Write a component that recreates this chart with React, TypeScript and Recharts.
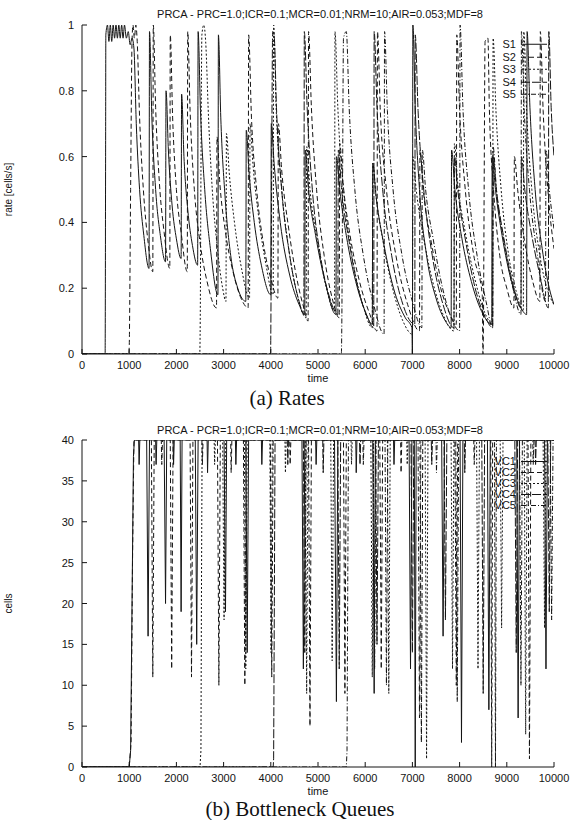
import React from 'react';
import { LineChart, Line, XAxis, YAxis, Legend } from 'recharts';

type Pt = [number, number];

const timeTicks = [0, 1000, 2000, 3000, 4000, 5000, 6000, 7000, 8000, 9000, 10000];
const rateTicks = [0, 0.2, 0.4, 0.6, 0.8, 1];
const queueTicks = [0, 5, 10, 15, 20, 25, 30, 35, 40];

const rateNames = ['S1', 'S2', 'S3', 'S4', 'S5'];
const queueNames = ['VC1', 'VC2', 'VC3', 'VC4', 'VC5'];

// rates [cells/s] per source, (time, rate)
const s1: Pt[] = [
  [0, 0], [490, 0], [500, 0.6], [505, 0.97], [540, 1.0], [570, 0.95], [600, 1.0], [630, 0.95], [660, 1.0],
  [690, 0.96], [720, 1.0], [750, 0.96], [780, 1.0], [810, 0.96], [840, 1.0], [870, 0.96], [900, 1.0],
  [940, 0.96], [980, 0.98], [1020, 0.94], [1060, 0.96], [1100, 0.93],
  [1150, 0.7], [1220, 0.5], [1310, 0.36], [1420, 0.26],
  [1430, 0.98], [1480, 0.72], [1560, 0.5], [1660, 0.36], [1770, 0.28],
  [1780, 0.8], [1830, 0.62], [1910, 0.45], [2000, 0.35], [2100, 0.29],
  [2110, 0.79], [2160, 0.6], [2240, 0.44], [2340, 0.33], [2450, 0.27],
  [2460, 0.98], [2510, 0.74], [2600, 0.5], [2720, 0.32], [2880, 0.18],
  [2890, 0.97], [2940, 0.72], [3030, 0.48], [3150, 0.3], [3300, 0.2], [3470, 0.16],
  [3480, 0.68], [3540, 0.55], [3650, 0.4], [3800, 0.27], [4000, 0.18],
  [4010, 0.7], [4070, 0.58], [4200, 0.4], [4400, 0.24], [4600, 0.15], [4720, 0.12],
  [4730, 0.62], [4800, 0.5], [4950, 0.36], [5150, 0.22], [5380, 0.12],
  [5390, 0.6], [5460, 0.5], [5600, 0.36], [5800, 0.22], [6000, 0.13], [6150, 0.09],
  [6160, 0.58], [6230, 0.48], [6400, 0.33], [6600, 0.2], [6850, 0.11], [6990, 0.08],
  [7000, 0], [7010, 1.0], [7060, 0.75], [7150, 0.5], [7300, 0.3], [7500, 0.17], [7700, 0.1], [7820, 0.08],
  [7830, 0.62], [7900, 0.5], [8050, 0.35], [8250, 0.22], [8500, 0.12], [8680, 0.09],
  [8690, 0.6], [8760, 0.5], [8900, 0.36], [9100, 0.22], [9300, 0.14], [9420, 0.12],
  [9430, 0.98], [9490, 0.75], [9600, 0.5], [9750, 0.32], [9900, 0.2], [10000, 0.15],
];

const s2: Pt[] = [
  [0, 0], [990, 0], [1000, 0.02], [1030, 0.5], [1060, 0.95], [1080, 1.0], [1110, 0.96], [1140, 1.0], [1170, 0.95],
  [1220, 0.72], [1300, 0.5], [1400, 0.34], [1500, 0.25],
  [1510, 1.0], [1560, 0.75], [1640, 0.52], [1740, 0.37], [1860, 0.26],
  [1870, 0.97], [1920, 0.72], [2000, 0.5], [2100, 0.37], [2230, 0.25],
  [2240, 0.98], [2290, 0.74], [2380, 0.5], [2500, 0.34], [2650, 0.22], [2850, 0.14],
  [2860, 0.66], [2920, 0.52], [3030, 0.38], [3200, 0.25], [3400, 0.16], [3520, 0.14],
  [3530, 0.97], [3590, 0.72], [3700, 0.5], [3850, 0.33], [4000, 0.23], [4150, 0.17],
  [4160, 0.7], [4230, 0.56], [4380, 0.38], [4550, 0.23], [4700, 0.14], [4790, 0.1],
  [4800, 0.98], [4860, 0.75], [4970, 0.5], [5130, 0.3], [5300, 0.17], [5450, 0.11],
  [5460, 0.64], [5530, 0.52], [5680, 0.36], [5880, 0.22], [6100, 0.12], [6250, 0.07],
  [6260, 0.98], [6320, 0.74], [6450, 0.5], [6650, 0.3], [6900, 0.15], [7150, 0.07],
  [7160, 0.62], [7230, 0.5], [7400, 0.34], [7600, 0.2], [7800, 0.12], [7930, 0.09],
  [7940, 0.97], [8000, 0.74], [8120, 0.5], [8300, 0.3], [8480, 0.18],
  [8495, 0], [8505, 0.08], [8520, 0.5], [8540, 0.95], [8600, 0.96], [8630, 0.75], [8720, 0.5],
  [8850, 0.3], [9000, 0.2], [9150, 0.14],
  [9160, 0.6], [9230, 0.5], [9380, 0.34], [9550, 0.22], [9700, 0.16],
  [9710, 0.98], [9770, 0.74], [9870, 0.5], [10000, 0.32],
];

const s3: Pt[] = [
  [0, 0], [2495, 0], [2505, 0.1], [2520, 0.55], [2540, 0.97], [2580, 1.0], [2620, 0.95],
  [2680, 0.72], [2760, 0.5], [2870, 0.32], [2980, 0.2], [3050, 0.16],
  [3060, 0.67], [3120, 0.55], [3230, 0.4], [3380, 0.26], [3550, 0.17],
  [3560, 0.7], [3620, 0.58], [3740, 0.42], [3900, 0.27], [4050, 0.18],
  [4060, 1.0], [4110, 0.76], [4220, 0.52], [4380, 0.32], [4560, 0.18], [4750, 0.11],
  [4760, 0.63], [4830, 0.5], [4980, 0.35], [5180, 0.2], [5350, 0.13],
  [5360, 0.98], [5420, 0.75], [5540, 0.5], [5720, 0.3], [5950, 0.15], [6150, 0.08],
  [6160, 0.58], [6230, 0.48], [6380, 0.34], [6580, 0.2], [6800, 0.1], [7000, 0.06],
  [7010, 0.6], [7080, 0.5], [7230, 0.36], [7430, 0.22], [7650, 0.12], [7880, 0.07],
  [7890, 0.64], [7960, 0.52], [8120, 0.37], [8320, 0.23], [8550, 0.12], [8700, 0.09],
  [8710, 0.96], [8770, 0.74], [8880, 0.5], [9040, 0.3], [9200, 0.19], [9350, 0.13],
  [9360, 0.98], [9420, 0.74], [9530, 0.5], [9700, 0.3], [9850, 0.2], [10000, 0.15],
];

const s4: Pt[] = [
  [0, 0], [3995, 0], [4005, 0.17], [4020, 0.6], [4040, 0.98], [4070, 0.97],
  [4120, 0.75], [4230, 0.5], [4400, 0.3], [4600, 0.16], [4700, 0.12],
  [4710, 0.98], [4770, 0.75], [4880, 0.5], [5050, 0.3], [5250, 0.17], [5420, 0.12],
  [5430, 0.62], [5500, 0.5], [5650, 0.35], [5850, 0.2], [6050, 0.11], [6180, 0.08],
  [6190, 0.98], [6250, 0.75], [6370, 0.5], [6560, 0.3], [6800, 0.15], [7050, 0.09],
  [7060, 0.97], [7120, 0.74], [7240, 0.5], [7420, 0.3], [7650, 0.15], [7880, 0.08],
  [7890, 0.6], [7960, 0.5], [8120, 0.35], [8330, 0.2], [8550, 0.11], [8700, 0.08],
  [8710, 0.6], [8780, 0.5], [8940, 0.35], [9150, 0.2], [9300, 0.14],
  [9310, 0.6], [9380, 0.5], [9530, 0.36], [9700, 0.24], [9880, 0.14],
  [9890, 0.98], [9940, 0.75], [10000, 0.6],
];

const s5: Pt[] = [
  [0, 0], [5495, 0], [5505, 0.1], [5520, 0.5], [5540, 0.96], [5600, 0.98],
  [5660, 0.75], [5780, 0.5], [5960, 0.3], [6180, 0.15], [6400, 0.06],
  [6410, 0.98], [6470, 0.74], [6590, 0.5], [6780, 0.3], [7000, 0.16], [7200, 0.08],
  [7210, 0.62], [7280, 0.5], [7440, 0.35], [7640, 0.2], [7850, 0.1], [8000, 0.07],
  [8010, 1.0], [8070, 0.75], [8190, 0.5], [8370, 0.3], [8560, 0.16], [8700, 0.08],
  [8710, 0.63], [8780, 0.5], [8930, 0.35], [9130, 0.2], [9300, 0.12],
  [9310, 0.98], [9370, 0.74], [9480, 0.5], [9650, 0.3], [9820, 0.16],
  [9830, 0.62], [9900, 0.5], [10000, 0.38],
];

// bottleneck queue length [cells] per VC, (time, cells)
const vc1: Pt[] = [
  [0, 0], [1000, 0], [1030, 2], [1060, 20], [1090, 38], [1110, 40],
  [1200, 40], [1210, 37], [1225, 40], [1370, 40], [1400, 16], [1430, 40],
  [1560, 40], [1570, 37], [1585, 40], [1740, 40], [1770, 20], [1795, 40],
  [1930, 40], [1940, 37], [1955, 40], [2080, 40], [2100, 19], [2120, 40],
  [2400, 40], [2430, 15], [2460, 40], [2650, 40], [2660, 36], [2675, 40],
  [3010, 40], [3040, 19], [3065, 40], [3250, 40], [3260, 37], [3275, 40],
  [3470, 40], [3500, 14], [3530, 40], [3800, 40], [3810, 37], [3825, 40],
  [4660, 40], [4690, 12], [4720, 40], [4950, 40], [4960, 37], [4975, 40],
  [5350, 40], [5390, 8], [5420, 40], [5800, 40], [5810, 36], [5825, 40],
  [6160, 40], [6190, 9], [6215, 40], [6600, 40], [6610, 37], [6625, 40],
  [6930, 40], [6960, 12], [6990, 40], [7040, 40], [7060, 0], [7080, 40],
  [7620, 40], [7650, 16], [7680, 40], [8010, 40], [8040, 3], [8070, 40],
  [8590, 40], [8620, 7], [8650, 40], [9210, 40], [9240, 6], [9270, 40],
  [9800, 40], [9830, 12], [9860, 40], [10000, 40],
];

const vc2: Pt[] = [
  [0, 0], [1000, 0], [1040, 3], [1070, 25], [1100, 40],
  [1470, 40], [1500, 11], [1530, 40], [1680, 40], [1690, 37], [1705, 40],
  [1870, 40], [1900, 12], [1930, 40], [2290, 40], [2320, 11], [2350, 40],
  [2540, 40], [2550, 37], [2565, 40], [2870, 40], [2900, 10], [2930, 40],
  [3150, 40], [3160, 36], [3175, 40], [3420, 40], [3450, 10], [3480, 40],
  [3990, 40], [4020, 11], [4050, 40], [4400, 40], [4410, 37], [4425, 40],
  [4800, 40], [4830, 5], [4860, 40], [5540, 40], [5570, 9], [5600, 40],
  [5950, 40], [5960, 37], [5975, 40], [6310, 40], [6340, 12], [6370, 40],
  [6750, 40], [6760, 36], [6775, 40], [7160, 40], [7190, 3], [7220, 40],
  [7900, 40], [7930, 10], [7960, 40], [8300, 40], [8310, 37], [8325, 40],
  [8660, 40], [8680, 0], [8700, 40], [9450, 40], [9480, 1], [9510, 40], [10000, 40],
];

const vc3: Pt[] = [
  [0, 0], [2500, 0], [2520, 2], [2530, 20], [2545, 40],
  [2800, 40], [2810, 37], [2825, 40], [2980, 40], [3010, 18], [3040, 40],
  [3440, 40], [3470, 12], [3500, 40], [3980, 40], [4005, 14], [4030, 40],
  [4300, 40], [4310, 36], [4325, 40], [4730, 40], [4760, 9], [4790, 40],
  [5270, 40], [5300, 13], [5330, 40], [5700, 40], [5710, 37], [5725, 40],
  [6120, 40], [6150, 11], [6180, 40], [6470, 40], [6500, 9], [6530, 40],
  [6880, 40], [6890, 37], [6905, 40], [7270, 40], [7300, 1], [7330, 40],
  [7820, 40], [7850, 12], [7880, 40], [8360, 40], [8390, 12], [8420, 40],
  [8860, 40], [8890, 17], [8920, 40], [9370, 40], [9400, 4], [9430, 40],
  [9770, 40], [9800, 17], [9830, 40], [10000, 40],
];

const vc4: Pt[] = [
  [0, 0], [4050, 0], [4060, 1], [4075, 20], [4090, 40],
  [4350, 40], [4360, 37], [4375, 40], [4690, 40], [4720, 14], [4750, 40],
  [5100, 40], [5110, 36], [5125, 40], [5420, 40], [5450, 12], [5480, 40],
  [5880, 40], [5890, 37], [5905, 40], [6220, 40], [6250, 15], [6280, 40],
  [6970, 40], [7000, 14], [7030, 40], [7400, 40], [7410, 37], [7425, 40],
  [7670, 40], [7700, 18], [7730, 40], [8100, 40], [8110, 36], [8125, 40],
  [8470, 40], [8500, 9], [8530, 40], [9170, 40], [9200, 14], [9230, 40],
  [9600, 40], [9610, 37], [9625, 40], [9870, 40], [9900, 19], [9930, 40], [10000, 40],
];

const vc5: Pt[] = [
  [0, 0], [5600, 0], [5615, 2], [5630, 22], [5645, 40],
  [6170, 40], [6200, 12], [6230, 40], [6420, 40], [6450, 10], [6480, 40],
  [7120, 40], [7150, 6], [7180, 40], [7500, 40], [7510, 36], [7525, 40],
  [7920, 40], [7950, 8], [7980, 40], [8740, 40], [8760, 0], [8780, 40],
  [9270, 40], [9300, 10], [9330, 40], [9550, 40], [9560, 37], [9575, 40],
  [9920, 40], [9950, 18], [9980, 40], [10000, 40],
];

const rateSeries = [s1, s2, s3, s4, s5];
const queueSeries = [vc1, vc2, vc3, vc4, vc5];

const dashes = ['0', '5 3', '2 2', '9 2', '5 2 1 2'];
const FONT = '"Liberation Sans", Arial, sans-serif';
const INK = '#141414';

const toRows = (pts: Pt[], key: string) => pts.map(([t, v]) => ({ t, [key]: v }));

const BottomTick = ({ x, y, payload }: any) => (
  <g>
    <line x1={x} y1={y} x2={x} y2={y - 5} stroke={INK} />
    <text x={x} y={y + 15} textAnchor="middle" fontSize={11} fontFamily={FONT} fill={INK}>
      {payload.value}
    </text>
  </g>
);
const TopTick = ({ x, y }: any) => <line x1={x} y1={y} x2={x} y2={y + 5} stroke={INK} />;
const LeftTick = ({ x, y, payload }: any) => (
  <g>
    <line x1={x} y1={y} x2={x + 5} y2={y} stroke={INK} />
    <text x={x - 8} y={y + 4} textAnchor="end" fontSize={11} fontFamily={FONT} fill={INK}>
      {payload.value}
    </text>
  </g>
);
const RightTick = ({ x, y }: any) => <line x1={x} y1={y} x2={x - 5} y2={y} stroke={INK} />;

const LegendBox = ({ names, rowH }: { names: string[]; rowH: number }) => (
  <div style={{ fontFamily: FONT, fontSize: 11, color: INK }}>
    {names.map((n, i) => (
      <div key={n} style={{ display: 'flex', alignItems: 'center', height: rowH }}>
        <span style={{ width: 28, textAlign: 'right', lineHeight: `${rowH}px` }}>{n}</span>
        <svg width={30} height={rowH} style={{ marginLeft: 3 }}>
          <line x1={2} x2={28} y1={rowH / 2} y2={rowH / 2} stroke={INK} strokeDasharray={dashes[i]} />
        </svg>
      </div>
    ))}
  </div>
);

const Panel = ({
  names, series, yTicks, yMax, yLabel, legendTop, rowH, marginTop, height, curve,
}: any) => (
  <LineChart width={570} height={height} margin={{ top: marginTop, right: 16, bottom: 8, left: 0 }}>
    <XAxis
      dataKey="t" type="number" domain={[0, 10000]} allowDataOverflow ticks={timeTicks} interval={0}
      height={28} tickSize={0} tickMargin={0} tickLine={false} stroke={INK} tick={BottomTick}
      label={{ value: 'time', position: 'insideBottom', offset: 0, fontSize: 11, fontFamily: FONT, fill: INK }}
    />
    <XAxis
      xAxisId="top" orientation="top" dataKey="t" type="number" domain={[0, 10000]} allowDataOverflow
      ticks={timeTicks} interval={0} height={0} tickSize={0} tickMargin={0} tickLine={false} stroke={INK} tick={TopTick}
    />
    <YAxis
      type="number" domain={[0, yMax]} allowDataOverflow ticks={yTicks} interval={0} width={82}
      tickSize={0} tickMargin={0} tickLine={false} stroke={INK} tick={LeftTick}
      label={{
        value: yLabel, angle: -90, position: 'insideLeft', offset: 8, fontSize: 10, fontFamily: FONT, fill: INK,
        style: { textAnchor: 'middle' },
      }}
    />
    <YAxis
      yAxisId="right" orientation="right" type="number" domain={[0, yMax]} allowDataOverflow ticks={yTicks}
      interval={0} width={0} tickSize={0} tickMargin={0} tickLine={false} stroke={INK} tick={RightTick}
    />
    {series.map((pts: Pt[], i: number) => (
      <Line
        key={names[i]}
        name={names[i]}
        data={toRows(pts, names[i])}
        dataKey={names[i]}
        type={curve}
        stroke={INK}
        strokeWidth={1}
        strokeDasharray={dashes[i]}
        dot={false}
        activeDot={false}
        isAnimationActive={false}
      />
    ))}
    <Legend
      layout="horizontal" align="center" verticalAlign="middle"
      wrapperStyle={{ top: legendTop, left: 488, width: 66, height: rowH * 5, bottom: 'auto', right: 'auto' }}
      content={() => <LegendBox names={names} rowH={rowH} />}
    />
  </LineChart>
);

const title = (text: string, top: number) => (
  <div
    style={{
      position: 'absolute', left: 70, width: 500, top, textAlign: 'center',
      fontFamily: FONT, fontSize: 11, color: INK,
    }}
  >
    {text}
  </div>
);

const caption = (text: string, top: number, cx: number) => (
  <div
    style={{
      position: 'absolute', left: cx - 200, width: 400, top, textAlign: 'center',
      fontFamily: '"Liberation Serif", "DejaVu Serif", serif', fontSize: 21, lineHeight: '20px', color: '#111',
    }}
  >
    {text}
  </div>
);

export default function App() {
  return (
    <div style={{ position: 'absolute', left: 0, top: 0, width: 570, height: 820, background: '#fff', overflow: 'hidden' }}>
      {title('PRCA - PRC=1.0;ICR=0.1;MCR=0.01;NRM=10;AIR=0.053;MDF=8', 8)}
      <div style={{ position: 'absolute', left: 0, top: 0 }}>
        <Panel
          names={rateNames} series={rateSeries} yTicks={rateTicks} yMax={1} yLabel="rate [cells/s]"
          legendTop={38} rowH={12.5} marginTop={25} height={390} curve="monotone"
        />
      </div>
      {caption('(a) Rates', 388, 287)}
      {title('PRCA - PCR=1.0;ICR=0.1;MCR=0.01;NRM=10;AIR=0.053;MDF=8', 424)}
      <div style={{ position: 'absolute', left: 0, top: 400 }}>
        <Panel
          names={queueNames} series={queueSeries} yTicks={queueTicks} yMax={40} yLabel="cells"
          legendTop={56} rowH={11} marginTop={40} height={403} curve="linear"
        />
      </div>
      {caption('(b) Bottleneck Queues', 799, 300)}
    </div>
  );
}
